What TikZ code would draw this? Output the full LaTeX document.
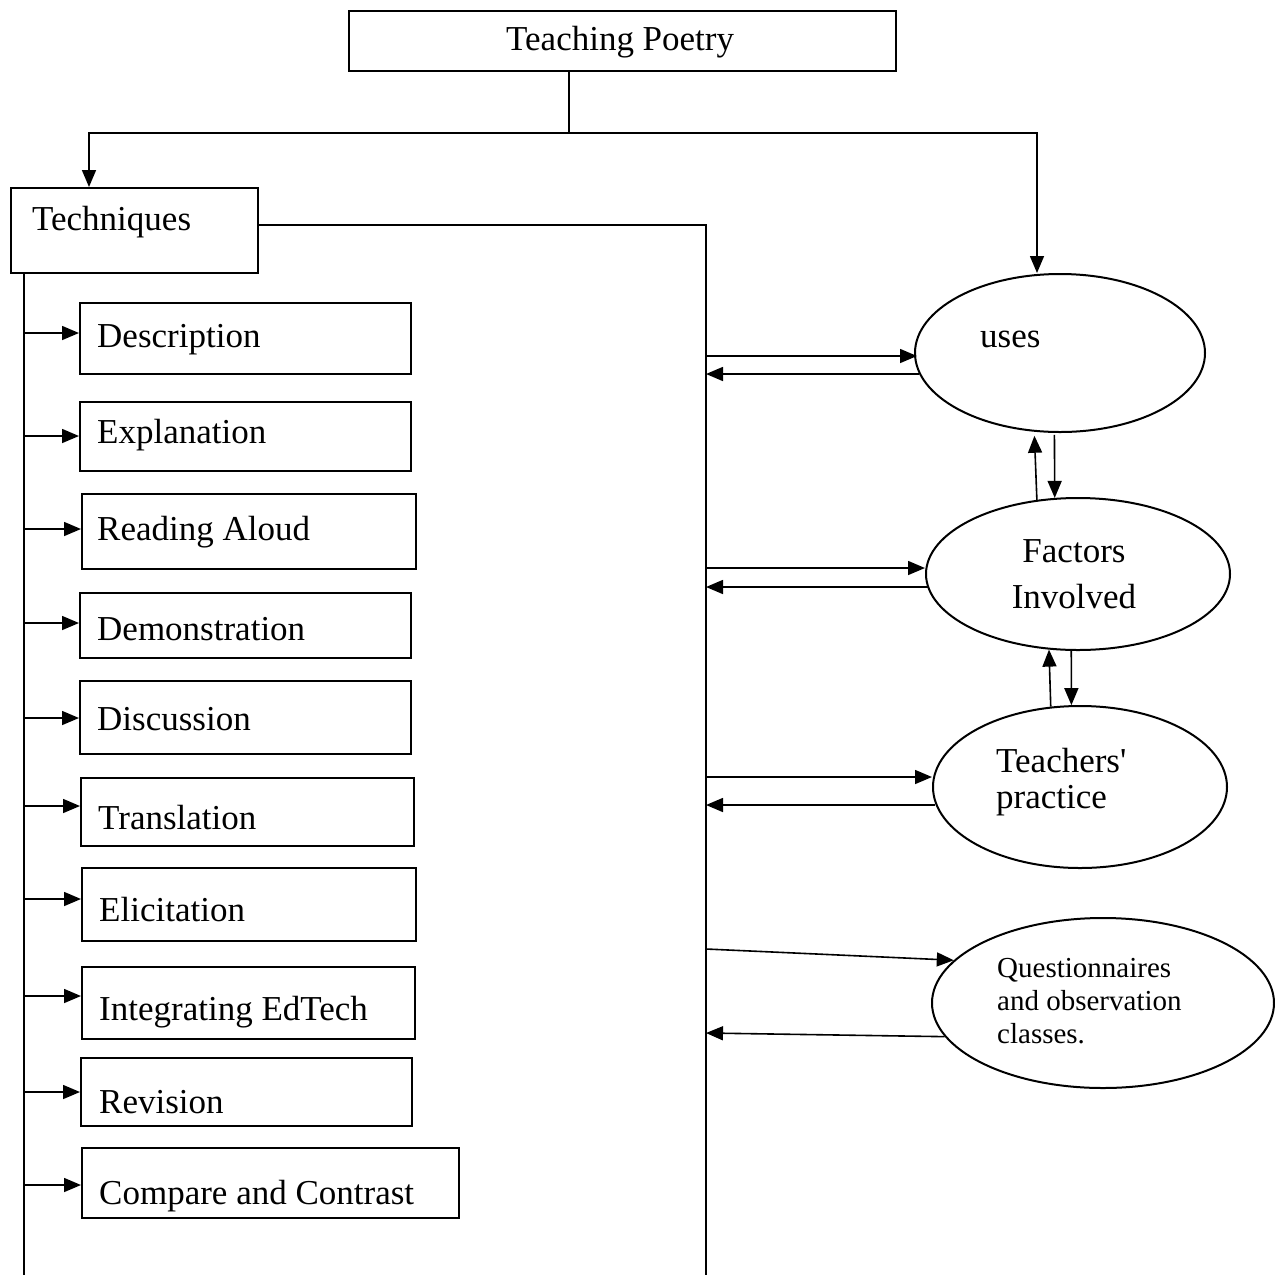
\documentclass[tikz,border=0pt]{standalone}
\usepackage{fontspec}
\setmainfont{Liberation Serif}
\usetikzlibrary{arrows.meta,shapes.geometric,calc}
\begin{document}
\begin{tikzpicture}[x=1bp,y=-1bp,
  box/.style={draw,line width=2bp,inner sep=0,anchor=north west},
  ell/.style={draw,ellipse,line width=2bp,inner sep=0},
  lbl/.style={inner sep=0,anchor=base west,font=\fontsize{35bp}{42bp}\selectfont},
  clbl/.style={lbl,anchor=base},
  small/.style={inner sep=0,anchor=base west,font=\fontsize{29bp}{33bp}\selectfont},
  conn/.style={line width=1.6bp},
  arr/.style={conn,-{Triangle[length=17bp,width=14bp]}}]
\useasboundingbox (0,0) rectangle (1275,1275);

% top
\node[box,minimum width=547bp,minimum height=60bp] (tp) at (348,10) {};
\node[lbl] (tpT) at (506,50) {Teaching Poetry};
\coordinate (j) at (569,133);
\coordinate (jl) at (89,133);
\coordinate (jr) at (1037,133);

% Techniques
\node[box,minimum width=247bp,minimum height=85bp] (tech) at (10,187) {};
\node[lbl] (techT) at (32,230) {Techniques};

% ellipses
\node[ell,minimum width=290bp,minimum height=158bp] (uses) at (1060,353) {};
\node[lbl] (usesT) at (980,347) {uses};
\node[ell,minimum width=304bp,minimum height=152bp] (fac) at (1078,574) {};
\node[clbl] (facT1) at (1074,562) {Factors};
\node[clbl] (facT2) at (1074,608) {Involved};
\node[ell,minimum width=294bp,minimum height=162bp] (tea) at (1080,787) {};
\node[lbl] (teaT1) at (996,772) {Teachers\textquotesingle};
\node[lbl] (teaT2) at (996,808) {practice};
\node[ell,minimum width=342bp,minimum height=170bp] (que) at (1103,1003) {};
\node[small] (queT1) at (997,977) {Questionnaires};
\node[small] (queT2) at (997,1010) {and observation};
\node[small] (queT3) at (997,1043) {classes.};

% technique boxes
\node[box,minimum width=331bp,minimum height=71bp] (b1) at (79,302) {};
\node[lbl] (b1T) at (97,347) {Description};
\node[box,minimum width=331bp,minimum height=69bp] (b2) at (79,401) {};
\node[lbl] (b2T) at (97,443) {Explanation};
\node[box,minimum width=334bp,minimum height=75bp] (b3) at (81,493) {};
\node[lbl] (b3T) at (97,540) {Reading Aloud};
\node[box,minimum width=331bp,minimum height=65bp] (b4) at (79,592) {};
\node[lbl] (b4T) at (97,640) {Demonstration};
\node[box,minimum width=331bp,minimum height=73bp] (b5) at (79,680) {};
\node[lbl] (b5T) at (97,730) {Discussion};
\node[box,minimum width=333bp,minimum height=68bp] (b6) at (80,777) {};
\node[lbl] (b6T) at (98,829) {Translation};
\node[box,minimum width=334bp,minimum height=73bp] (b7) at (81,867) {};
\node[lbl] (b7T) at (99,921) {Elicitation};
\node[box,minimum width=333bp,minimum height=72bp] (b8) at (81,966) {};
\node[lbl] (b8T) at (99,1020) {Integrating EdTech};
\node[box,minimum width=331bp,minimum height=68bp] (b9) at (80,1057) {};
\node[lbl] (b9T) at (99,1113) {Revision};
\node[box,minimum width=377bp,minimum height=70bp] (b10) at (81,1147) {};
\node[lbl] (b10T) at (99,1204) {Compare and Contrast};

% trunks
\coordinate (tR) at (706,225);
\coordinate (tRb) at (706,1275);
\coordinate (tL) at (24,272);
\coordinate (tLb) at (24,1275);

% top connectors
\draw[conn] (tp.south -| j) -- (j);
\draw[arr] (j) -| (jl |- tech.north);
\draw[arr] (j) -| (jr |- uses.north);

% techniques to right trunk
\draw[conn] (tech.east |- tR) -- (tR) -- (tRb);
% left trunk
\draw[conn] (tL) -- (tLb);

% left arrows
\draw[arr] (tL |- 0,333) -- (b1.west |- 0,333);
\draw[arr] (tL |- 0,436) -- (b2.west |- 0,436);
\draw[arr] (tL |- 0,529) -- (b3.west |- 0,529);
\draw[arr] (tL |- 0,623) -- (b4.west |- 0,623);
\draw[arr] (tL |- 0,718) -- (b5.west |- 0,718);
\draw[arr] (tL |- 0,806) -- (b6.west |- 0,806);
\draw[arr] (tL |- 0,899) -- (b7.west |- 0,899);
\draw[arr] (tL |- 0,996) -- (b8.west |- 0,996);
\draw[arr] (tL |- 0,1092) -- (b9.west |- 0,1092);
\draw[arr] (tL |- 0,1185) -- (b10.west |- 0,1185);

% right arrows
\draw[arr] (tR |- 0,356) -- ($(uses.west |- 0,356)+(3,0)$);
\draw[arr] ($(uses.west |- 0,374)+(5,0)$) -- (tR |- 0,374);
\draw[arr] (tR |- 0,568) -- (fac.west |- 0,568);
\draw[arr] ($(fac.west |- 0,587)+(3,0)$) -- (tR |- 0,587);
\draw[arr] (tR |- 0,777) -- (tea.west |- 0,777);
\draw[arr] ($(tea.west |- 0,805)+(3,0)$) -- (tR |- 0,805);
\draw[arr] (tR |- 0,949) -- (que.164);
\draw[arr] (que.192) -- (tR |- 0,1033);

% between ellipses
\draw[arr] (fac.119) -- ($(uses.252)+(0,4)$);
\draw[arr] ($(uses.266)+(0,2)$) -- (fac.107);
\draw[arr] (tea.110) -- (fac.249);
\draw[arr] (fac.265) -- (tea.96);
\end{tikzpicture}
\end{document}
